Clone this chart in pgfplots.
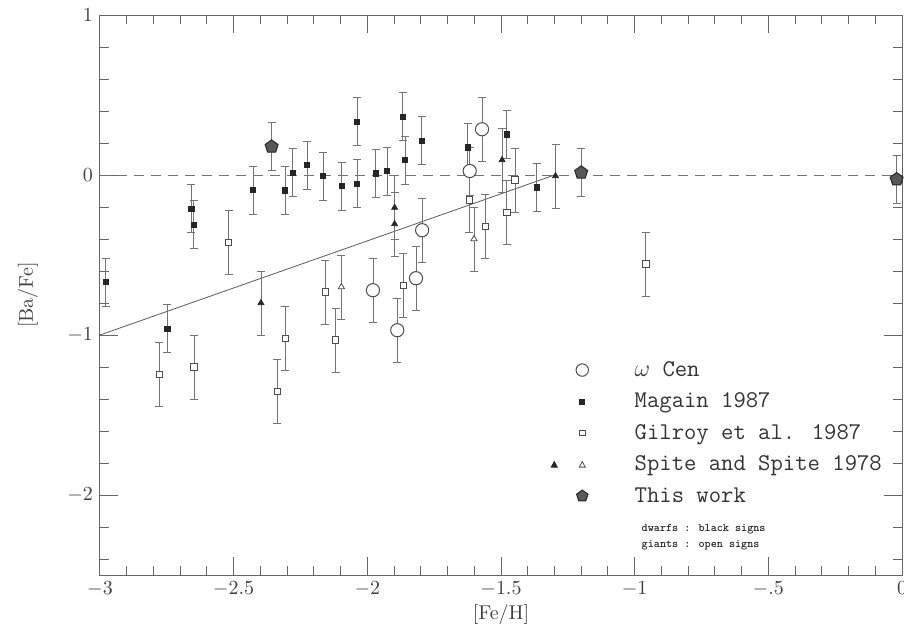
\documentclass[border=0pt]{standalone}
\usepackage{pgfplots}
\pgfplotsset{compat=1.18}
\pgfplotsset{
  ebar/.style={error bars/.cd, y dir=both, y explicit,
    error bar style={black!55, line width=0.4pt},
    error mark options={rotate=90, black!55, mark size=2pt, line width=0.4pt}},
}
\begin{document}
\begin{tikzpicture}
\begin{axis}[name=ax, scale only axis, width=401pt, height=280pt,
  xmin=-3, xmax=0, ymin=-2.5, ymax=1,
  clip=false,
  axis line style={black!60, line width=0.5pt},
  tick align=inside,
  major tick length=9pt, minor tick length=4.5pt,
  tick style={black!60, line width=0.5pt},
  xtick={-3,-2.5,-2,-1.5,-1,-0.5,0},
  xticklabels={$-3$,$-2.5$,$-2$,$-1.5$,$-1$,$-.5$,$0$},
  minor xtick={-2.9,-2.8,-2.7,-2.6,-2.4,-2.3,-2.2,-2.1,-1.9,-1.8,-1.7,-1.6,-1.4,-1.3,-1.2,-1.1,-0.9,-0.8,-0.7,-0.6,-0.4,-0.3,-0.2,-0.1},
  ytick={-2,-1,0,1},
  yticklabels={$-2$,$-1$,$0$,$1$},
  minor ytick={-2.4,-2.2,-1.8,-1.6,-1.4,-1.2,-0.8,-0.6,-0.4,-0.2,0.2,0.4,0.6,0.8},
  tick label style={text=black!75},
  xlabel={[Fe/H]}, ylabel={[Ba/Fe]},
  every axis y label/.style={at={(axis description cs:-0.09,0.5)}, rotate=90, anchor=center, text=black!75},
  every axis x label/.style={at={(axis description cs:0.5,-0.07)}, anchor=center, text=black!75},
  legend style={at={(axis cs:-1.3157,-1.144)}, anchor=north west, draw=none, fill=none,
    inner sep=0pt, outer sep=0pt, column sep=0pt, row sep=3.75pt,
    font=\fontsize{12}{14}\selectfont\ttfamily, text=black!80,
    nodes={inner sep=0pt, text height=9pt, text depth=3pt}},
  legend cell align=left,
]
% reference lines
\addplot[black!55, dash pattern=on 5pt off 3.5pt, forget plot] coordinates {(-3,0) (0,0)};
\addplot[black!65, forget plot] coordinates {(-3,-1) (-1.3,0)};

% omega Cen (large open circles)
\addplot[only marks, mark=*, mark size=3.3pt, mark options={draw=black!70, fill=white, line width=0.5pt},
  legend image code/.code={\path[draw=none, fill=none] (-16pt,-5.5pt) rectangle (26.2pt,5.5pt);
    \draw[black!70, fill=white, line width=0.5pt] (0pt,0pt) circle (3.1pt);},
  ebar] table[x=x, y=y, y error=e] {
x y e
-1.979 -0.72 0.2
-1.888 -0.97 0.2
-1.818 -0.645 0.2
-1.795 -0.345 0.2
-1.571 0.286 0.2
-1.617 0.025 0.15
};
\addlegendentry{$\omega$ Cen}

% Magain 1987 (filled squares)
\addplot[only marks, mark=square*, mark size=1.3pt, mark options={draw=black!85, fill=black!85},
  legend image code/.code={\path[draw=none, fill=none] (-16pt,-5.5pt) rectangle (26.2pt,5.5pt);
    \fill[black!85] (-1.2pt,-1.2pt) rectangle (1.2pt,1.2pt);},
  ebar] table[x=x, y=y, y error=e] {
x y e
-2.979 -0.67 0.15
-2.658 -0.21 0.15
-2.649 -0.31 0.15
-2.748 -0.96 0.15
-2.428 -0.094 0.15
-2.307 -0.096 0.15
-2.279 0.015 0.15
-2.226 0.0625 0.15
-2.166 -0.006 0.15
-2.096 -0.069 0.15
-2.039 0.333 0.15
-2.039 -0.054 0.15
-1.968 0.01 0.15
-1.926 0.025 0.15
-1.868 0.365 0.15
-1.858 0.094 0.15
-1.796 0.214 0.15
-1.625 0.173 0.15
-1.478 0.254 0.15
-1.367 -0.077 0.15
};
\addlegendentry{Magain 1987}

% Gilroy et al. 1987 (open squares)
\addplot[only marks, mark=square*, mark size=1.6pt, mark options={draw=black!70, fill=white, line width=0.45pt},
  legend image code/.code={\path[draw=none, fill=none] (-16pt,-5.5pt) rectangle (26.2pt,5.5pt);
    \draw[black!70, fill=white, line width=0.45pt] (-1.4pt,-1.4pt) rectangle (1.4pt,1.4pt);},
  ebar] table[x=x, y=y, y error=e] {
x y e
-2.778 -1.246 0.2
-2.648 -1.20 0.2
-2.519 -0.42 0.2
-2.337 -1.352 0.2
-2.307 -1.023 0.2
-2.157 -0.731 0.2
-2.119 -1.031 0.2
-1.866 -0.69 0.2
-1.618 -0.156 0.2
-1.558 -0.323 0.2
-1.448 -0.031 0.2
-1.478 -0.235 0.2
-0.958 -0.556 0.2
};
\addlegendentry{Gilroy et al. 1987}

% Spite and Spite 1978 (filled triangles = dwarfs)
\addplot[only marks, mark=triangle*, mark size=1.7pt, mark options={draw=black!85, fill=black!85},
  legend image code/.code={\path[draw=none, fill=none] (-16pt,-5.5pt) rectangle (26.2pt,5.5pt);
    \fill[black!85] (-15.5pt,-1.3pt) -- (-12.5pt,-1.3pt) -- (-14pt,1.5pt) -- cycle;
    \draw[black!70, line width=0.4pt] (-1.5pt,-1.3pt) -- (1.5pt,-1.3pt) -- (0pt,1.5pt) -- cycle;},
  ebar] table[x=x, y=y, y error=e] {
x y e
-2.398 -0.80 0.2
-1.898 -0.204 0.2
-1.898 -0.306 0.2
-1.496 0.094 0.2
-1.296 -0.006 0.2
};
\addlegendentry{Spite and Spite 1978}

% Spite and Spite 1978 (open triangles = giants)
\addplot[only marks, forget plot, mark=triangle*, mark size=1.8pt, mark options={draw=black!70, fill=white, line width=0.4pt},
  ebar] table[x=x, y=y, y error=e] {
x y e
-2.097 -0.70 0.2
-1.601 -0.40 0.2
};

% This work (pentagons)
\addplot[only marks, mark=pentagon*, mark size=3.4pt, mark options={draw=black!85, fill=black!65, line width=0.5pt},
  legend image code/.code={\path[draw=none, fill=none] (-16pt,-5.5pt) rectangle (26.2pt,5.5pt);
    \draw[black!85, fill=black!65, line width=0.5pt] plot[only marks, mark=pentagon*, mark size=3pt] coordinates {(0pt,0pt)};},
  ebar] table[x=x, y=y, y error=e] {
x y e
-2.358 0.177 0.15
-1.20 0.015 0.15
-0.02 -0.027 0.15
};
\addlegendentry{This work}

\node[anchor=west, align=left, font=\fontsize{5.8}{8}\selectfont\ttfamily\bfseries, text=black!85]
  at (axis cs:-1.0,-2.2625) {dwarfs : black signs\\giants : open signs};
\end{axis}
\pgfresetboundingbox
\path ([shift={(-50pt,-28.5pt)}]ax.south west) rectangle ([shift={(1pt,7.5pt)}]ax.north east);
\end{tikzpicture}
\end{document}
